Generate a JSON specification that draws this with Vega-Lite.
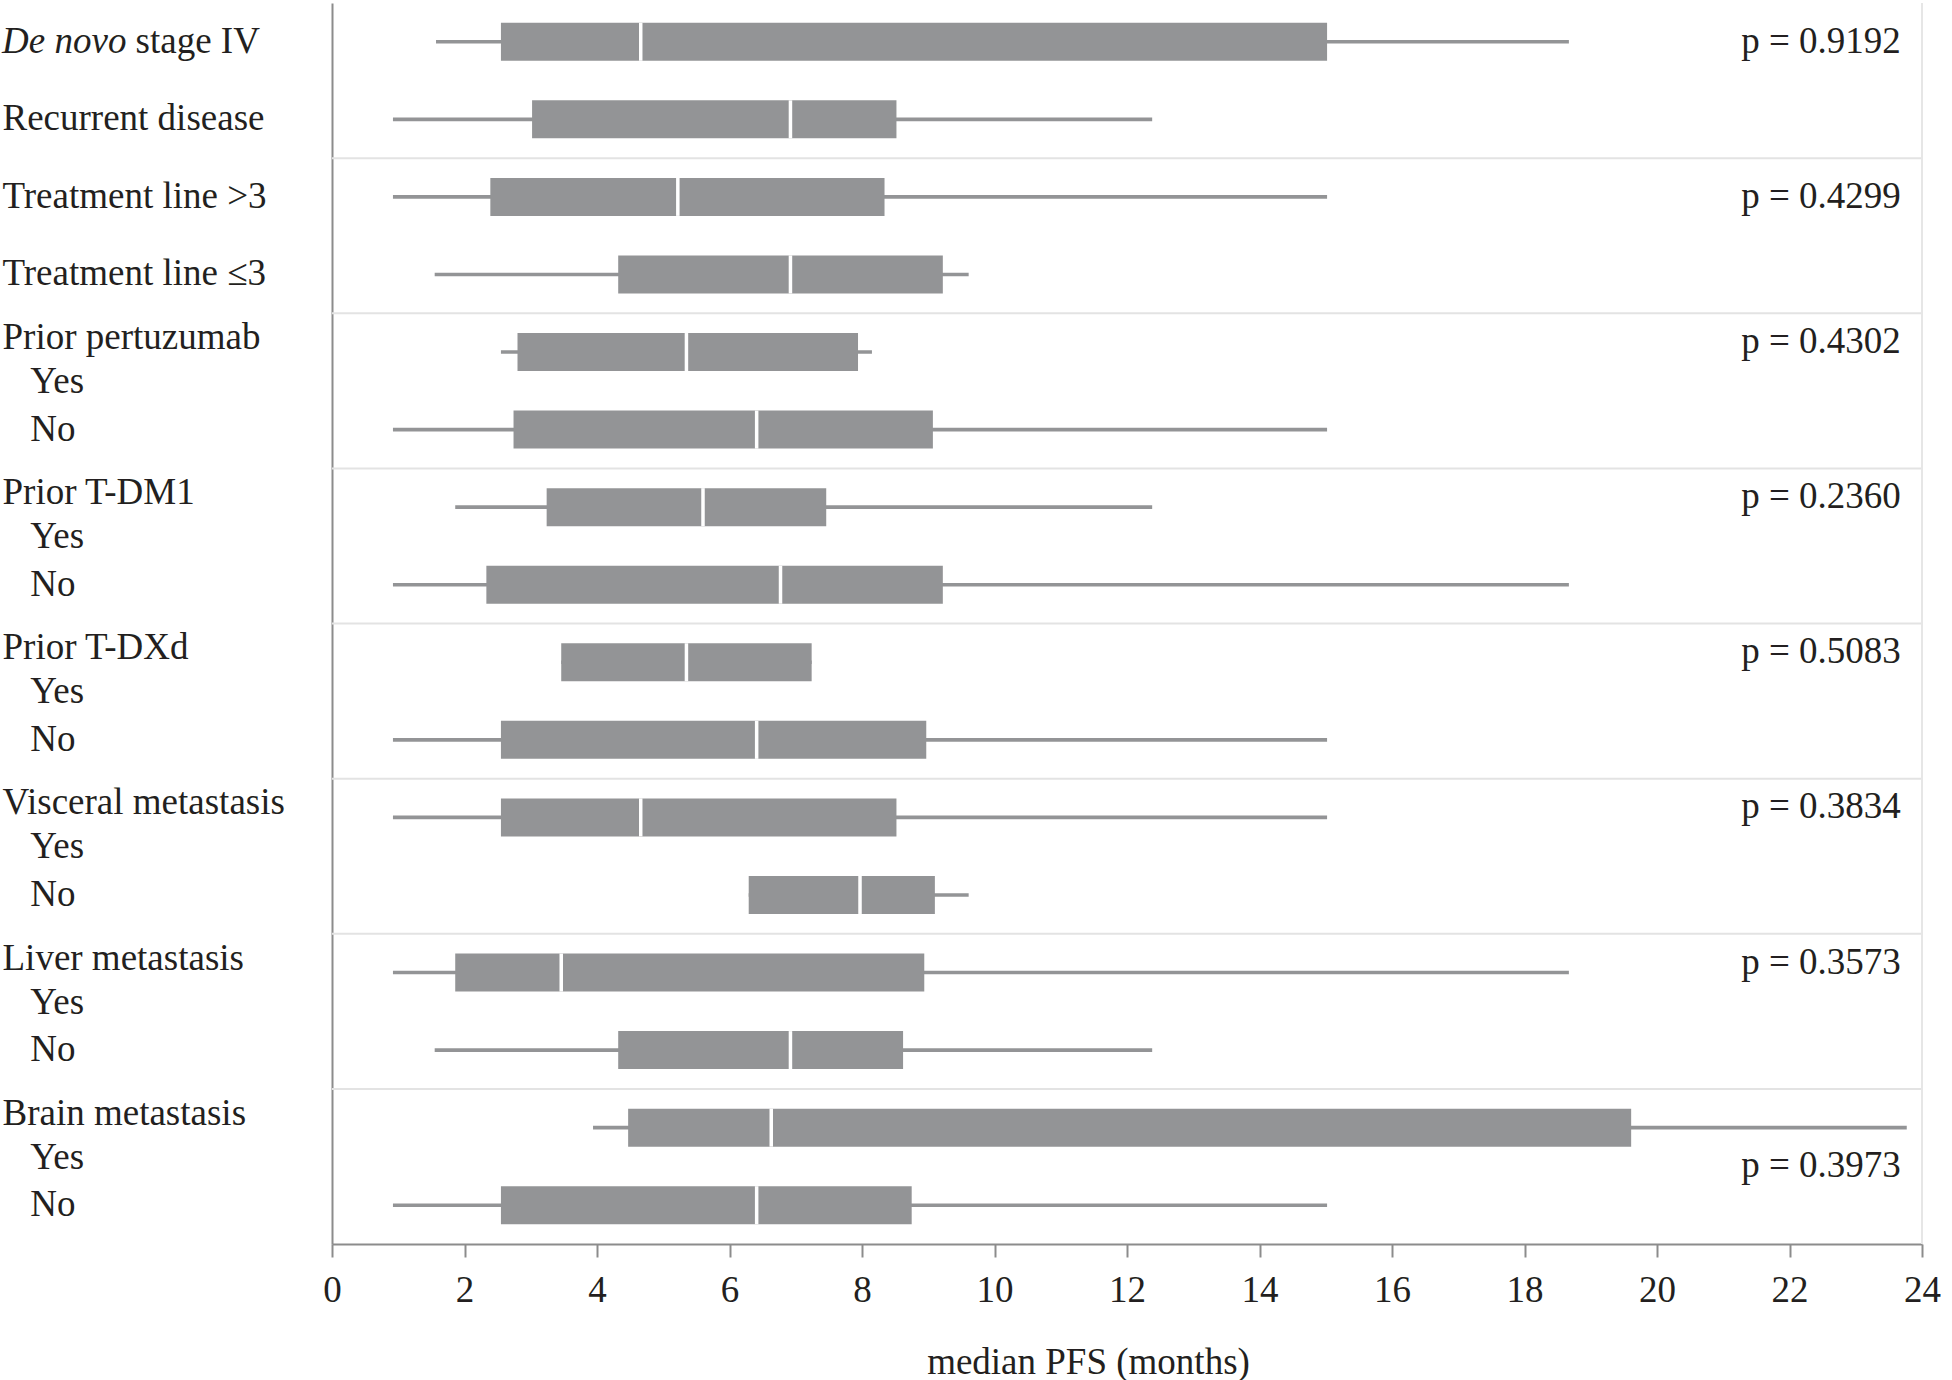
{
  "$schema": "https://vega.github.io/schema/vega-lite/v6.json",
  "width": 1590,
  "height": 1241,
  "padding": {"left": 2, "top": 2, "right": 0, "bottom": 0},
  "config": {"view": {"stroke": null}, "font": "Liberation Serif"},
  "datasets": {
    "rows": [
      {"row": "De novo stage IV", "group": "Stage", "min": 1.57, "q1": 2.55, "med": 4.66, "q3": 15.02, "max": 18.67},
      {"row": "Recurrent disease", "group": "Stage", "min": 0.92, "q1": 3.02, "med": 6.92, "q3": 8.52, "max": 12.38},
      {"row": "Treatment line >3", "group": "Treatment line", "min": 0.92, "q1": 2.39, "med": 5.22, "q3": 8.34, "max": 15.02},
      {"row": "Treatment line ≤3", "group": "Treatment line", "min": 1.55, "q1": 4.32, "med": 6.92, "q3": 9.22, "max": 9.61},
      {"row": "Prior pertuzumab: Yes", "group": "Prior pertuzumab", "min": 2.55, "q1": 2.80, "med": 5.35, "q3": 7.94, "max": 8.15},
      {"row": "Prior pertuzumab: No", "group": "Prior pertuzumab", "min": 0.92, "q1": 2.74, "med": 6.41, "q3": 9.07, "max": 15.02},
      {"row": "Prior T-DM1: Yes", "group": "Prior T-DM1", "min": 1.86, "q1": 3.24, "med": 5.60, "q3": 7.46, "max": 12.38},
      {"row": "Prior T-DM1: No", "group": "Prior T-DM1", "min": 0.92, "q1": 2.33, "med": 6.77, "q3": 9.22, "max": 18.67},
      {"row": "Prior T-DXd: Yes", "group": "Prior T-DXd", "min": 3.46, "q1": 3.46, "med": 5.35, "q3": 7.24, "max": 7.24},
      {"row": "Prior T-DXd: No", "group": "Prior T-DXd", "min": 0.92, "q1": 2.55, "med": 6.41, "q3": 8.97, "max": 15.02},
      {"row": "Visceral metastasis: Yes", "group": "Visceral metastasis", "min": 0.92, "q1": 2.55, "med": 4.66, "q3": 8.52, "max": 15.02},
      {"row": "Visceral metastasis: No", "group": "Visceral metastasis", "min": 6.29, "q1": 6.29, "med": 7.97, "q3": 9.10, "max": 9.61},
      {"row": "Liver metastasis: Yes", "group": "Liver metastasis", "min": 0.92, "q1": 1.86, "med": 3.46, "q3": 8.94, "max": 18.67},
      {"row": "Liver metastasis: No", "group": "Liver metastasis", "min": 1.55, "q1": 4.32, "med": 6.92, "q3": 8.62, "max": 12.38},
      {"row": "Brain metastasis: Yes", "group": "Brain metastasis", "min": 3.94, "q1": 4.47, "med": 6.63, "q3": 19.61, "max": 23.77},
      {"row": "Brain metastasis: No", "group": "Brain metastasis", "min": 0.92, "q1": 2.55, "med": 6.41, "q3": 8.75, "max": 15.02}
    ],
    "pvals": [
      {"group": "Stage", "row": "De novo stage IV", "p": "p = 0.9192"},
      {"group": "Treatment line", "row": "Treatment line >3", "p": "p = 0.4299"},
      {"group": "Prior pertuzumab", "row": "Prior pertuzumab: Yes", "p": "p = 0.4302"},
      {"group": "Prior T-DM1", "row": "Prior T-DM1: Yes", "p": "p = 0.2360"},
      {"group": "Prior T-DXd", "row": "Prior T-DXd: Yes", "p": "p = 0.5083"},
      {"group": "Visceral metastasis", "row": "Visceral metastasis: Yes", "p": "p = 0.3834"},
      {"group": "Liver metastasis", "row": "Liver metastasis: Yes", "p": "p = 0.3573"},
      {"group": "Brain metastasis", "row": "Brain metastasis: Yes", "p": "p = 0.3973"}
    ],
    "rowlabel": [
      {"row": "De novo stage IV", "part": 1, "label": "De novo"},
      {"row": "De novo stage IV", "part": 2, "label": "stage IV"}
    ]
  },
  "layer": [
    {
      "data": {"name": "pvals"},
      "transform": [{"filter": "datum.group != 'Stage'"}],
      "mark": {"type": "rule", "color": "#e3e3e3", "strokeWidth": 2},
      "encoding": {
        "y": {
          "field": "row", "type": "nominal", "title": null, "bandPosition": 0,
          "scale": {"domain": ["De novo stage IV","Recurrent disease","Treatment line >3","Treatment line ≤3","Prior pertuzumab: Yes","Prior pertuzumab: No","Prior T-DM1: Yes","Prior T-DM1: No","Prior T-DXd: Yes","Prior T-DXd: No","Visceral metastasis: Yes","Visceral metastasis: No","Liver metastasis: Yes","Liver metastasis: No","Brain metastasis: Yes","Brain metastasis: No"], "paddingInner": 0, "paddingOuter": 0},
          "axis": {
            "orient": "left", "domain": true, "domainColor": "#8c8c8c", "domainWidth": 2,
            "ticks": false, "tickSize": 0, "grid": false,
            "labelAlign": "left", "labelPadding": 330, "labelBaseline": "middle",
            "labelFont": "Liberation Serif", "labelFontSize": 37, "labelColor": "#231f20",
            "labelLineHeight": 44, "labelOverlap": false, "labelBound": false, "labelLimit": 0,
            "labelOffset": {"condition": {"test": "indexof(datum.value, ': Yes') >= 0", "value": -14}, "value": 0},
            "labelExpr": "datum.value == 'De novo stage IV' ? '' : (indexof(datum.value, ': ') < 0 ? datum.value : (indexof(datum.value, ': Yes') >= 0 ? [split(datum.value, ': ')[0], '\u200b\u00a0\u00a0\u00a0Yes'] : '\u200b\u00a0\u00a0\u00a0No'))"
          }
        }
      }
    },
    {
      "data": {"values": [{"edge": "right"}]},
      "mark": {"type": "rule", "color": "#e6e6e6", "strokeWidth": 2},
      "encoding": {"x": {"datum": 24, "type": "quantitative", "scale": {"domain": [0, 24], "nice": false}, "title": "median PFS (months)"}}
    },
    {
      "data": {"name": "rows"},
      "encoding": {
        "y": {
          "field": "row", "type": "nominal", "title": null,
          "scale": {"domain": ["De novo stage IV","Recurrent disease","Treatment line >3","Treatment line ≤3","Prior pertuzumab: Yes","Prior pertuzumab: No","Prior T-DM1: Yes","Prior T-DM1: No","Prior T-DXd: Yes","Prior T-DXd: No","Visceral metastasis: Yes","Visceral metastasis: No","Liver metastasis: Yes","Liver metastasis: No","Brain metastasis: Yes","Brain metastasis: No"], "paddingInner": 0, "paddingOuter": 0},
          "axis": {
            "orient": "left", "domain": true, "domainColor": "#8c8c8c", "domainWidth": 2,
            "ticks": false, "tickSize": 0, "grid": false,
            "labelAlign": "left", "labelPadding": 330, "labelBaseline": "middle",
            "labelFont": "Liberation Serif", "labelFontSize": 37, "labelColor": "#231f20",
            "labelLineHeight": 44, "labelOverlap": false, "labelBound": false, "labelLimit": 0,
            "labelOffset": {"condition": {"test": "indexof(datum.value, ': Yes') >= 0", "value": -14}, "value": 0},
            "labelExpr": "datum.value == 'De novo stage IV' ? '' : (indexof(datum.value, ': ') < 0 ? datum.value : (indexof(datum.value, ': Yes') >= 0 ? [split(datum.value, ': ')[0], '\u200b\u00a0\u00a0\u00a0Yes'] : '\u200b\u00a0\u00a0\u00a0No'))"
          }
        }
      },
      "layer": [
        {
          "mark": {"type": "rule", "color": "#939496", "strokeWidth": 3.6},
          "encoding": {
            "x": {
              "field": "min", "type": "quantitative", "title": "median PFS (months)",
              "scale": {"domain": [0, 24], "nice": false},
              "axis": {
                "values": [0, 2, 4, 6, 8, 10, 12, 14, 16, 18, 20, 22, 24], "format": "d",
                "tickSize": 13, "tickWidth": 2, "tickColor": "#8c8c8c",
                "domainColor": "#8c8c8c", "domainWidth": 2, "grid": false,
                "labelFont": "Liberation Serif", "labelFontSize": 37, "labelColor": "#231f20",
                "labelPadding": 15, "labelFlush": false, "labelOverlap": false,
                "titleFont": "Liberation Serif", "titleFontSize": 37, "titleFontWeight": "normal",
                "titleColor": "#231f20", "titlePadding": 36, "titleX": 756
              }
            },
            "x2": {"field": "max"}
          }
        },
        {
          "mark": {"type": "bar", "color": "#939496", "size": 38},
          "encoding": {
            "x": {"field": "q1", "type": "quantitative", "title": "median PFS (months)", "scale": {"domain": [0, 24], "nice": false}},
            "x2": {"field": "q3"}
          }
        },
        {
          "mark": {"type": "tick", "color": "#ffffff", "thickness": 3.5, "size": 38, "opacity": 1},
          "encoding": {
            "x": {"field": "med", "type": "quantitative", "title": "median PFS (months)", "scale": {"domain": [0, 24], "nice": false}}
          }
        },
        {
          "data": {"name": "rowlabel"},
          "transform": [{"filter": "datum.part == 1"}],
          "mark": {"type": "text", "align": "left", "baseline": "middle", "fontSize": 37, "font": "Liberation Serif", "fontStyle": "italic", "color": "#231f20"},
          "encoding": {
            "x": {"datum": -4.98, "type": "quantitative", "scale": {"domain": [0, 24], "nice": false}, "title": "median PFS (months)"},
            "text": {"field": "label"}
          }
        },
        {
          "data": {"name": "rowlabel"},
          "transform": [{"filter": "datum.part == 2"}],
          "mark": {"type": "text", "align": "left", "baseline": "middle", "fontSize": 37, "font": "Liberation Serif", "color": "#231f20"},
          "encoding": {
            "x": {"datum": -2.965, "type": "quantitative", "scale": {"domain": [0, 24], "nice": false}, "title": "median PFS (months)"},
            "text": {"field": "label"}
          }
        },
        {
          "data": {"name": "pvals"},
          "transform": [{"filter": "indexof(datum.row, ':') < 0"}],
          "mark": {"type": "text", "align": "right", "baseline": "middle", "fontSize": 37, "font": "Liberation Serif", "color": "#231f20"},
          "encoding": {
            "x": {"datum": 23.68, "type": "quantitative", "scale": {"domain": [0, 24], "nice": false}, "title": "median PFS (months)"},
            "text": {"field": "p"}
          }
        },
        {
          "data": {"name": "pvals"},
          "transform": [{"filter": "indexof(datum.row, ':') >= 0 && datum.group != 'Brain metastasis'"}],
          "mark": {"type": "text", "align": "right", "baseline": "middle", "fontSize": 37, "font": "Liberation Serif", "color": "#231f20", "dy": -10},
          "encoding": {
            "x": {"datum": 23.68, "type": "quantitative", "scale": {"domain": [0, 24], "nice": false}, "title": "median PFS (months)"},
            "text": {"field": "p"}
          }
        }
      ]
    },
    {
      "data": {"name": "pvals"},
      "transform": [{"filter": "datum.group == 'Brain metastasis'"}],
      "mark": {"type": "text", "align": "right", "baseline": "middle", "fontSize": 37, "font": "Liberation Serif", "color": "#231f20"},
      "encoding": {
        "y": {
          "field": "row", "type": "nominal", "title": null, "bandPosition": 1,
          "scale": {"domain": ["De novo stage IV","Recurrent disease","Treatment line >3","Treatment line ≤3","Prior pertuzumab: Yes","Prior pertuzumab: No","Prior T-DM1: Yes","Prior T-DM1: No","Prior T-DXd: Yes","Prior T-DXd: No","Visceral metastasis: Yes","Visceral metastasis: No","Liver metastasis: Yes","Liver metastasis: No","Brain metastasis: Yes","Brain metastasis: No"], "paddingInner": 0, "paddingOuter": 0},
          "axis": {
            "orient": "left", "domain": true, "domainColor": "#8c8c8c", "domainWidth": 2,
            "ticks": false, "tickSize": 0, "grid": false,
            "labelAlign": "left", "labelPadding": 330, "labelBaseline": "middle",
            "labelFont": "Liberation Serif", "labelFontSize": 37, "labelColor": "#231f20",
            "labelLineHeight": 44, "labelOverlap": false, "labelBound": false, "labelLimit": 0,
            "labelOffset": {"condition": {"test": "indexof(datum.value, ': Yes') >= 0", "value": -14}, "value": 0},
            "labelExpr": "datum.value == 'De novo stage IV' ? '' : (indexof(datum.value, ': ') < 0 ? datum.value : (indexof(datum.value, ': Yes') >= 0 ? [split(datum.value, ': ')[0], '\u200b\u00a0\u00a0\u00a0Yes'] : '\u200b\u00a0\u00a0\u00a0No'))"
          }
        },
        "x": {"datum": 23.68, "type": "quantitative", "scale": {"domain": [0, 24], "nice": false}, "title": "median PFS (months)"},
        "text": {"field": "p"}
      }
    }
  ]
}
